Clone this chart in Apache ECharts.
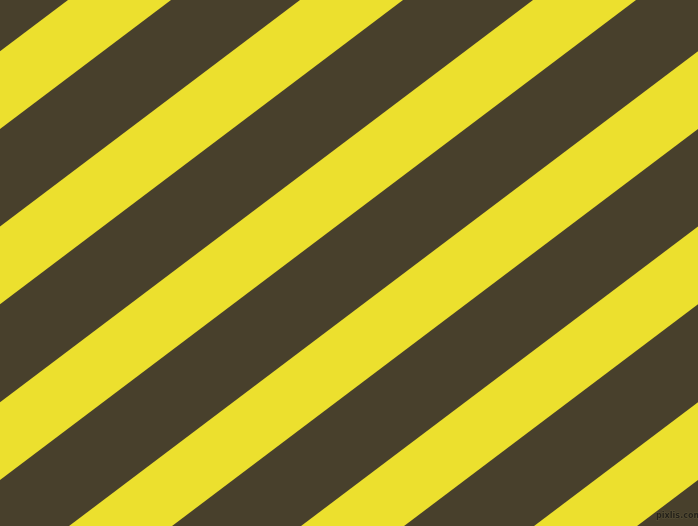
<!DOCTYPE html>
<html>
<head>
<meta charset="utf-8">
<script src="https://cdn.jsdelivr.net/npm/echarts@6/dist/echarts.min.js"></script>
<style>html,body{margin:0;padding:0;background:#48402c;}#c{width:698px;height:526px;}</style>
</head>
<body>
<div id="c"></div>
<script>
// Stripe data: left edge of each yellow stripe along the top edge (x at y=0)
const stripeStarts = [68, 300, 533, 766, 998, 1231];
const stripeWidth = 103;        // horizontal width of a yellow band
const shiftPerY = 1.325;        // horizontal shift per unit of y (stripe tilt, ~37 deg)
const W = 698, H = 526;

const chart = echarts.init(document.getElementById('c'), null, {renderer: 'canvas'});
chart.setOption({
  backgroundColor: '#48402c',
  animation: false,
  grid: {left: 0, right: 0, top: 0, bottom: 0},
  xAxis: {type: 'value', min: 0, max: W, show: false},
  yAxis: {type: 'value', min: 0, max: H, inverse: true, show: false},
  series: [{
    type: 'custom',
    clip: true,
    data: stripeStarts.map(s => [s, stripeWidth]),
    renderItem: function (params, api) {
      const s = api.value(0), w = api.value(1);
      const d = H * shiftPerY;
      const pts = [
        api.coord([s, 0]),
        api.coord([s + w, 0]),
        api.coord([s + w - d, H]),
        api.coord([s - d, H])
      ];
      return {
        type: 'polygon',
        shape: {points: pts},
        style: {fill: '#ece02e'}
      };
    }
  }],
  graphic: [{
    type: 'text',
    x: 656,
    y: 511,
    style: {text: 'pixlis.com', fill: '#25221a', stroke: '#5a5238', lineWidth: 1, font: 'bold 9px "Liberation Sans Narrow", "DejaVu Sans Condensed", sans-serif'}
  }]
});
</script>
</body>
</html>
